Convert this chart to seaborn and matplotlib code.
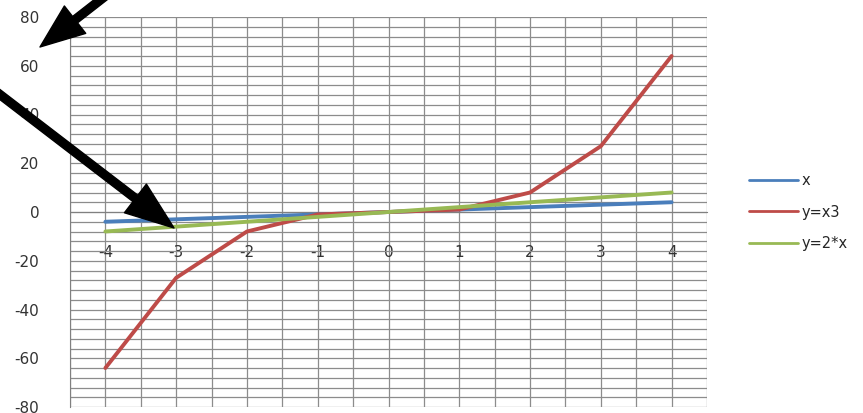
import pandas as pd
import seaborn as sns
import matplotlib.pyplot as plt
import numpy as np

# values
x_vals = [-4, -3, -2, -1, 0, 1, 2, 3, 4]
y_x = [-4, -3, -2, -1, 0, 1, 2, 3, 4]
y_cube = [-64, -27, -8, -1, 0, 1, 8, 27, 64]
y_double = [-8, -6, -4, -2, 0, 2, 4, 6, 8]
series_names = ['x', 'y=x3', 'y=2*x']
y_ticks = [-80, -60, -40, -20, 0, 20, 40, 60, 80]

long_data = pd.concat([
    pd.DataFrame({'pos': x_vals, 'value': y_x, 'series': 'x'}),
    pd.DataFrame({'pos': x_vals, 'value': y_cube, 'series': 'y=x3'}),
    pd.DataFrame({'pos': x_vals, 'value': y_double, 'series': 'y=2*x'}),
])

sns.set_style('white')
plt.rcParams['font.family'] = ['DejaVu Sans']
plt.rcParams['axes.unicode_minus'] = False

fig = plt.figure(figsize=(8.63, 4.13), dpi=100)
ax = fig.add_axes([70 / 863, 6 / 413, 637 / 863, 390 / 413])

palette = {'x': '#4a7ebb', 'y=x3': '#be4b48', 'y=2*x': '#98b954'}
sns.lineplot(data=long_data, x='pos', y='value', hue='series', hue_order=series_names,
             palette=palette, linewidth=2.8, sort=False, ax=ax, zorder=3)

ax.set_xlim(-4.5, 4.5)
ax.set_ylim(-80, 80)
ax.set_xticks(x_vals)
ax.set_xticks(np.arange(-4.5, 4.6, 1.0), minor=True)
ax.set_yticks(y_ticks)
ax.set_yticks(np.arange(-80, 81, 4), minor=True)

ax.grid(True, which='both', color='#8c8c8c', linewidth=0.9, zorder=0)
ax.set_axisbelow(True)

for side in ['top', 'right']:
    ax.spines[side].set_visible(False)
ax.spines['bottom'].set_position(('data', 0))
ax.spines['bottom'].set_color('#808080')
ax.spines['left'].set_color('#808080')

ax.tick_params(axis='x', which='both', length=0, pad=24, labelsize=11, colors='#333333')
ax.tick_params(axis='y', which='major', length=8, color='#808080', pad=14, labelsize=11,
               labelcolor='#333333')
ax.tick_params(axis='y', which='minor', length=0)
ax.set_xlabel('')
ax.set_ylabel('')

leg = ax.legend(title=None, frameon=False, loc='center left', bbox_to_anchor=(1.045, 0.5),
                fontsize=10.5, handlelength=3.4, labelspacing=1.15, handletextpad=0.2)
for line in leg.get_lines():
    line.set_linewidth(2.0)

# black arrows drawn over the chart
ax.annotate('', xy=(40, 413 - 47), xycoords='figure pixels',
            xytext=(108, 413 + 6), textcoords='figure pixels',
            arrowprops=dict(facecolor='black', edgecolor='black', width=5.8,
                            headwidth=25, headlength=32, shrink=0),
            annotation_clip=False)
ax.annotate('', xy=(174, 413 - 228), xycoords='figure pixels',
            xytext=(-6, 413 - 90), textcoords='figure pixels',
            arrowprops=dict(facecolor='black', edgecolor='black', width=5.8,
                            headwidth=26, headlength=35, shrink=0),
            annotation_clip=False)

plt.savefig('out.png', dpi=100)
